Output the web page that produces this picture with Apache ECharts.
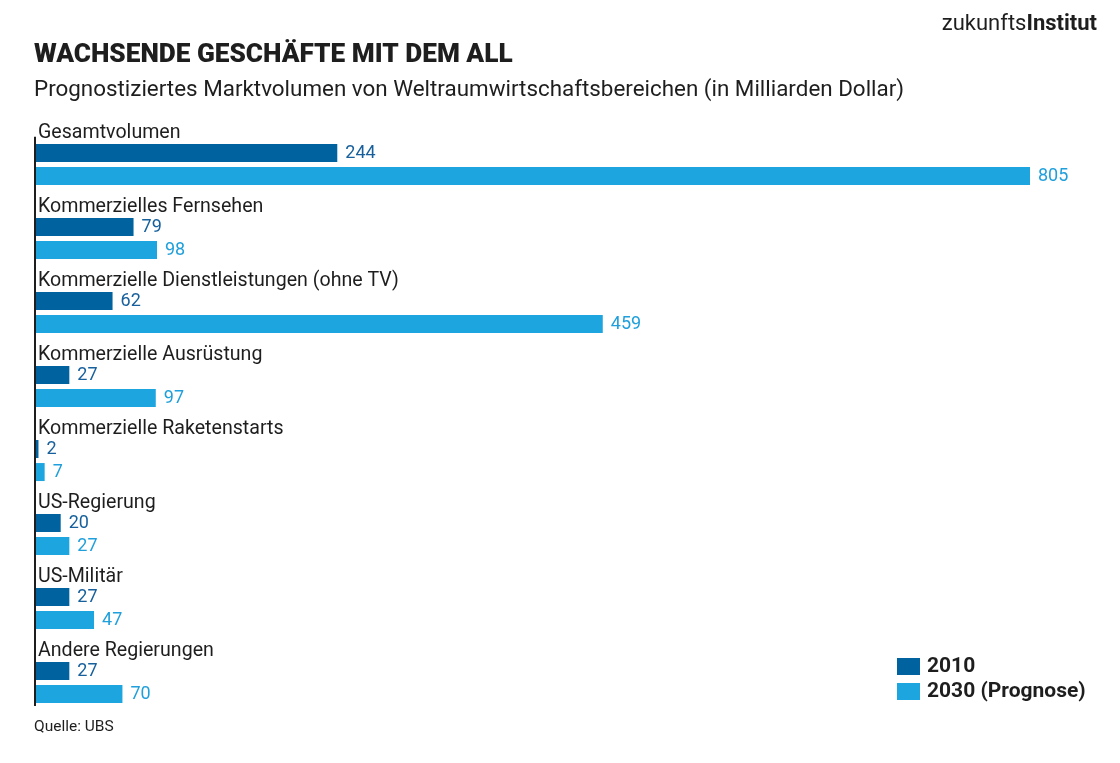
<!DOCTYPE html>
<html>
<head>
<meta charset="utf-8">
<script src="https://cdn.jsdelivr.net/npm/echarts@6/dist/echarts.min.js"></script>
<style>
html,body{margin:0;padding:0;background:#fff;}
#chart{width:1120px;height:763px;}
</style>
</head>
<body>
<div id="chart"></div>
<script>
const categories = [
  'Gesamtvolumen',
  'Kommerzielles Fernsehen',
  'Kommerzielle Dienstleistungen (ohne TV)',
  'Kommerzielle Ausrüstung',
  'Kommerzielle Raketenstarts',
  'US-Regierung',
  'US-Militär',
  'Andere Regierungen'
];
const values2010 = [244, 79, 62, 27, 2, 20, 27, 27];
const values2030 = [805, 98, 459, 97, 7, 27, 47, 70];
const seriesNames = ['2010', '2030 (Prognose)'];
const labelSlot = [0, 0, 0, 0, 0, 0, 0, 0];

const DARK = '#00629f';
const LIGHT = '#1da5e0';
const FONT = 'Roboto';

const chart = echarts.init(document.getElementById('chart'), null, {renderer: 'canvas'});
const option = {
  animation: false,
  backgroundColor: '#fff',
  textStyle: {fontFamily: FONT},
  title: [
    {text: 'WACHSENDE GESCHÄFTE MIT DEM ALL', left: 29, top: 37,
     textStyle: {fontFamily: FONT, fontWeight: 900, fontSize: 26.2, color: '#1e1e1e'}},
    {text: 'Prognostiziertes Marktvolumen von Weltraumwirtschaftsbereichen (in Milliarden Dollar)', left: 29, top: 74,
     textStyle: {fontFamily: FONT, fontWeight: 'normal', fontSize: 22.4, color: '#1e1e1e'}},
    {text: '{a|zukunfts}{b|Institut}', right: 18, top: 8,
     textStyle: {rich: {
       a: {fontFamily: FONT, fontSize: 22, color: '#1e1e1e', fontWeight: 'normal'},
       b: {fontFamily: FONT, fontSize: 22, color: '#1e1e1e', fontWeight: 'bold'}
     }}},
    {text: 'Quelle: UBS', left: 29, top: 714,
     textStyle: {fontFamily: FONT, fontWeight: 'normal', fontSize: 15.5, color: '#1e1e1e'}}
  ],
  legend: {
    data: seriesNames,
    orient: 'vertical',
    left: 892, top: 651,
    itemWidth: 23, itemHeight: 17, itemGap: 4,
    icon: 'rect',
    textStyle: {fontFamily: FONT, fontWeight: 'bold', fontSize: 21, color: '#1e1e1e', padding: [0, 0, 0, 2]}
  },
  grid: {left: 36, right: 90, top: 116, height: 592, containLabel: false},
  xAxis: {
    type: 'value', min: 0, max: 805,
    show: false
  },
  yAxis: {
    type: 'category', data: categories, inverse: true,
    axisLine: {show: false}, axisTick: {show: false}, axisLabel: {show: false}, splitLine: {show: false}
  },
  series: [
    {
      name: 'label', type: 'bar', data: labelSlot, barWidth: 18, barGap: '28%',
      itemStyle: {color: 'rgba(0,0,0,0)'},
      label: {show: true, position: 'right', distance: 2, offset: [0, 3], formatter: '{b}',
        fontFamily: FONT, fontSize: 19.6, color: '#1e1e1e'},
      silent: true
    },
    {
      name: seriesNames[0], type: 'bar', data: values2010, barWidth: 18, barGap: '28%',
      itemStyle: {color: DARK},
      label: {show: true, position: 'right', distance: 8, fontFamily: FONT, fontSize: 18, color: '#17609c'}
    },
    {
      name: seriesNames[1], type: 'bar', data: values2030, barWidth: 18, barGap: '28%',
      itemStyle: {color: LIGHT},
      label: {show: true, position: 'right', distance: 8, fontFamily: FONT, fontSize: 18, color: '#1f9fdb'}
    }
  ]
};
chart.setOption(option);

// axis line at value 0, derived from the chart's own scales
const x0 = chart.convertToPixel({xAxisIndex: 0}, 0);
const yFirst = chart.convertToPixel({yAxisIndex: 0}, categories[0]);
const yLast = chart.convertToPixel({yAxisIndex: 0}, categories[categories.length - 1]);
const band = (yLast - yFirst) / (categories.length - 1);
chart.setOption({
  graphic: [{
    type: 'line', silent: true,
    shape: {x1: x0 - 1, y1: yFirst - band * 0.22, x2: x0 - 1, y2: yLast + band / 2 - 2},
    style: {stroke: '#1e1e1e', lineWidth: 2}
  }]
});
</script>
</body>
</html>
